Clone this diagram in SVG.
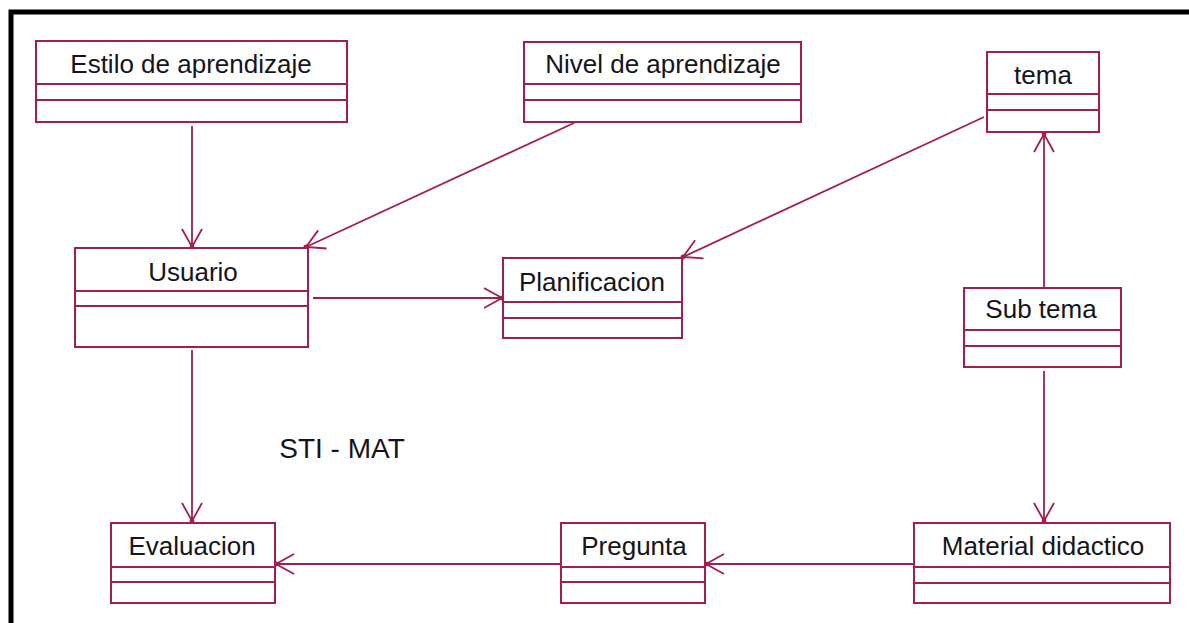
<svg xmlns="http://www.w3.org/2000/svg" width="1189" height="623" viewBox="0 0 1189 623">
  <defs>
    <style>
      .box { fill: #ffffff; stroke: #a31d50; stroke-width: 2; }
      .div { stroke: #a31d50; stroke-width: 2; }
      .lbl { font-family: "Liberation Sans", Arial, sans-serif; font-size: 26px; fill: #141420; text-anchor: middle; }
      .conn { fill: none; stroke: #a31d50; stroke-width: 1.8; marker-end: url(#nav); }
    </style>
    <!-- open navigable-association arrowhead with a dot at the tip -->
    <marker id="nav" viewBox="-21 -12 24 24" markerWidth="24" markerHeight="24" refX="0" refY="0" orient="auto" markerUnits="userSpaceOnUse" overflow="visible">
      <path d="M-18,-10 L0,0 L-18,10" fill="none" stroke="#a31d50" stroke-width="1.8"/>
      <circle cx="0" cy="0" r="2.4" fill="#a31d50"/>
    </marker>
  </defs>

  <rect x="0" y="0" width="1189" height="623" fill="#ffffff"/>
  <!-- outer frame -->
  <rect x="11" y="12" width="1250" height="700" fill="none" stroke="#000000" stroke-width="5"/>

  <g id="connectors">
    <path class="conn" d="M192,126 V247"/>
    <path class="conn" d="M574,123 L306,247"/>
    <path class="conn" d="M984,117 L683,257"/>
    <path class="conn" d="M313,298 H502"/>
    <path class="conn" d="M1044,287 V134"/>
    <path class="conn" d="M1044,371 V521"/>
    <path class="conn" d="M913,564 H706"/>
    <path class="conn" d="M560,564 H276"/>
    <path class="conn" d="M192,350 V521"/>
  </g>

  <g id="estilo">
    <rect class="box" x="36" y="41" width="311" height="81"/>
    <line class="div" x1="36" y1="84" x2="347" y2="84"/>
    <line class="div" x1="36" y1="100" x2="347" y2="100"/>
    <text class="lbl" x="191" y="73">Estilo de aprendizaje</text>
  </g>

  <g id="nivel">
    <rect class="box" x="524" y="42" width="277" height="80"/>
    <line class="div" x1="524" y1="84" x2="801" y2="84"/>
    <line class="div" x1="524" y1="100" x2="801" y2="100"/>
    <text class="lbl" x="663" y="73">Nivel de aprendizaje</text>
  </g>

  <g id="tema">
    <rect class="box" x="987" y="52" width="112" height="80"/>
    <line class="div" x1="987" y1="94" x2="1099" y2="94"/>
    <line class="div" x1="987" y1="110" x2="1099" y2="110"/>
    <text class="lbl" x="1043" y="84">tema</text>
  </g>

  <g id="usuario">
    <rect class="box" x="75" y="248" width="233" height="99"/>
    <line class="div" x1="75" y1="291" x2="308" y2="291"/>
    <line class="div" x1="75" y1="306" x2="308" y2="306"/>
    <text class="lbl" x="193" y="281">Usuario</text>
  </g>

  <g id="planificacion">
    <rect class="box" x="503" y="258" width="179" height="80"/>
    <line class="div" x1="503" y1="302" x2="682" y2="302"/>
    <line class="div" x1="503" y1="318" x2="682" y2="318"/>
    <text class="lbl" x="592" y="291">Planificacion</text>
  </g>

  <g id="subtema">
    <rect class="box" x="964" y="288" width="157" height="79"/>
    <line class="div" x1="964" y1="330" x2="1121" y2="330"/>
    <line class="div" x1="964" y1="346" x2="1121" y2="346"/>
    <text class="lbl" x="1041" y="318">Sub tema</text>
  </g>

  <g id="evaluacion">
    <rect class="box" x="111" y="523" width="164" height="80"/>
    <line class="div" x1="111" y1="567" x2="275" y2="567"/>
    <line class="div" x1="111" y1="582" x2="275" y2="582"/>
    <text class="lbl" x="192" y="555">Evaluacion</text>
  </g>

  <g id="pregunta">
    <rect class="box" x="561" y="523" width="144" height="80"/>
    <line class="div" x1="561" y1="567" x2="705" y2="567"/>
    <line class="div" x1="561" y1="582" x2="705" y2="582"/>
    <text class="lbl" x="634" y="555">Pregunta</text>
  </g>

  <g id="material">
    <rect class="box" x="914" y="523" width="256" height="80"/>
    <line class="div" x1="914" y1="567" x2="1170" y2="567"/>
    <line class="div" x1="914" y1="583" x2="1170" y2="583"/>
    <text class="lbl" x="1043" y="555">Material didactico</text>
  </g>

  <text id="titulo" x="342" y="458" style="font-family: 'Liberation Sans', Arial, sans-serif; font-size: 28px; fill: #141420; text-anchor: middle;">STI - MAT</text>
</svg>
